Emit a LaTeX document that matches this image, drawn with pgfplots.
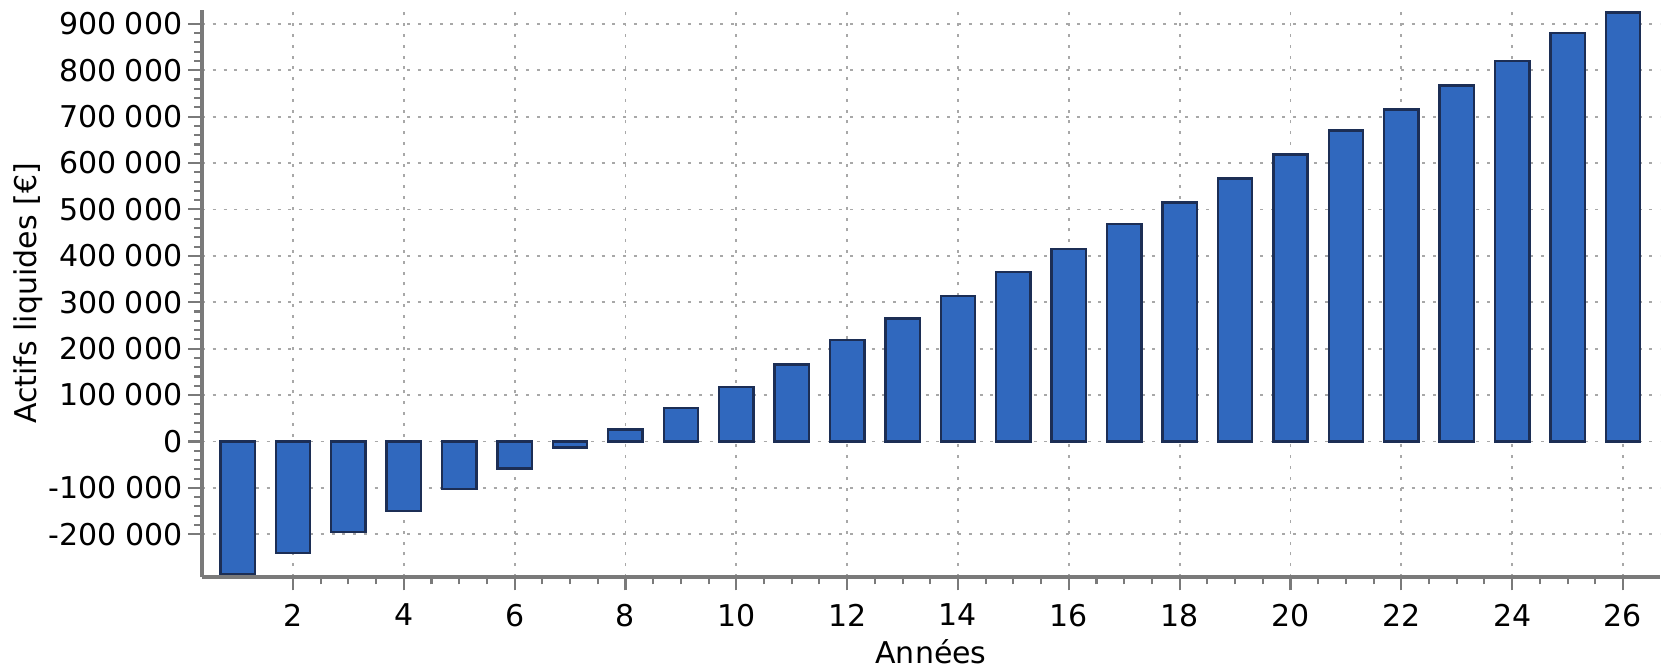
\documentclass[border=0pt]{standalone}
\usepackage{fontspec}
\setmainfont{DejaVu Sans}
\usepackage{pgfplots}
\pgfplotsset{compat=1.18}

\definecolor{barblue}{HTML}{3068BE}
\definecolor{baredge}{HTML}{1C2E55}
\definecolor{axgray}{HTML}{7A7A7A}
\definecolor{gridgray}{HTML}{A8A8A8}

\pgfplotstableread{
annee actifs
1  -286000
2  -240000
3  -195000
4  -150000
5  -103000
6  -58000
7  -13000
8  26000
9  72000
10 118000
11 166000
12 219000
13 265000
14 313000
15 365000
16 415000
17 468000
18 515000
19 567000
20 618000
21 670000
22 715000
23 767000
24 820000
25 880000
26 924000
}\actifs

\begin{document}
\begin{tikzpicture}
\begin{axis}[
    width=486pt, height=189pt, scale only axis,
    xmin=0.357, xmax=26.67,
    ymin=-292000, ymax=930000,
    axis lines*=left,
    axis line style={axgray, line width=1.1pt},
    tick style={axgray, line width=0.7pt},
    tick align=outside,
    major tick length=4.5pt,
    minor tick length=2.5pt,
    xtick={2,4,...,26},
    minor x tick num=3,
    ytick={-200000,-100000,...,900000},
    minor y tick num=4,
    xmajorgrids, ymajorgrids,
    major grid style={gridgray, line width=0.6pt, dash pattern=on 1pt off 2.6pt},
    scaled y ticks=false,
    yticklabel style={xshift=1.5pt, /pgf/number format/.cd, fixed, precision=0, 1000 sep={\hspace{0.28em}}, assume math mode=true},
    xticklabel style={yshift=-1pt, /pgf/number format/assume math mode=true},
    xlabel={Années},
    ylabel={Actifs liquides [€]},
    xlabel style={yshift=2.5pt},
    ylabel style={yshift=-5pt},
    ybar, bar width=0.62, bar shift=0pt,
  ]
  \addplot[fill=barblue, draw=baredge, line width=0.8pt] table[x=annee, y=actifs] {\actifs};
\end{axis}
\pgfresetboundingbox
\path ([xshift=-67.3pt, yshift=-30pt]current axis.south west) rectangle ([xshift=1.3pt, yshift=3.3pt]current axis.north east);
\end{tikzpicture}
\end{document}
